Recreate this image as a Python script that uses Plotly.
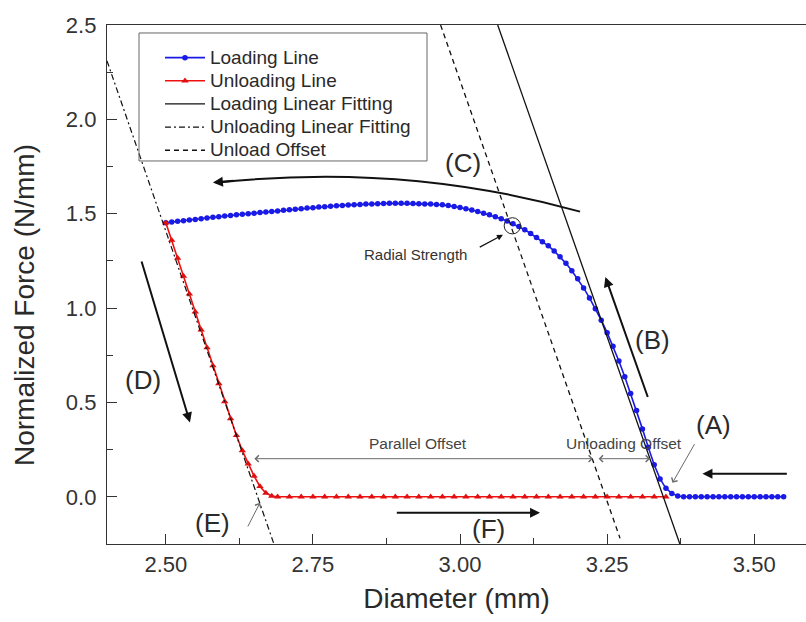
import plotly.graph_objects as go

# ---------------- data ----------------
loading_x = [2.50, 2.51, 2.52, 2.53, 2.54, 2.55, 2.56, 2.57, 2.58, 2.59,
             2.60, 2.61, 2.62, 2.63, 2.64, 2.65, 2.66, 2.67, 2.68, 2.69,
             2.70, 2.71, 2.72, 2.73, 2.74, 2.75, 2.76, 2.77, 2.78, 2.79,
             2.80, 2.81, 2.82, 2.83, 2.84, 2.85, 2.86, 2.87, 2.88, 2.89,
             2.90, 2.91, 2.92, 2.93, 2.94, 2.95, 2.96, 2.97, 2.98, 2.99,
             3.00, 3.01, 3.02, 3.03, 3.04, 3.05, 3.06, 3.07, 3.08, 3.09,
             3.10, 3.11, 3.12, 3.13, 3.14, 3.15, 3.16, 3.17, 3.18, 3.19,
             3.20, 3.21, 3.22, 3.23, 3.24, 3.25, 3.26, 3.27, 3.28, 3.29,
             3.30, 3.31, 3.32, 3.33, 3.34, 3.35, 3.36, 3.37, 3.38, 3.39,
             3.40, 3.41, 3.42, 3.43, 3.44, 3.45, 3.46, 3.47, 3.48, 3.49,
             3.50, 3.51, 3.52, 3.53, 3.54, 3.55]
loading_y = [1.452, 1.456, 1.460, 1.463, 1.467, 1.470, 1.474, 1.477, 1.481, 1.484,
             1.488, 1.491, 1.494, 1.497, 1.500, 1.503, 1.506, 1.509, 1.512, 1.515,
             1.518, 1.521, 1.524, 1.527, 1.530, 1.532, 1.535, 1.537, 1.540, 1.542,
             1.544, 1.546, 1.548, 1.549, 1.551, 1.552, 1.553, 1.554, 1.555, 1.555,
             1.555, 1.555, 1.554, 1.553, 1.552, 1.551, 1.549, 1.547, 1.543, 1.538,
             1.533, 1.527, 1.520, 1.512, 1.503, 1.494, 1.484, 1.473, 1.461, 1.447,
             1.432, 1.415, 1.395, 1.374, 1.352, 1.330, 1.303, 1.272, 1.237, 1.198,
             1.155, 1.107, 1.054, 0.997, 0.936, 0.870, 0.798, 0.720, 0.636, 0.548,
             0.458, 0.360, 0.262, 0.170, 0.095, 0.045, 0.018, 0.004, 0.0, 0.0,
             0.0, 0.0, 0.0, 0.0, 0.0, 0.0, 0.0, 0.0, 0.0, 0.0,
             0.0, 0.0, 0.0, 0.0, 0.0, 0.0]

unloading_x = [2.50, 2.51, 2.52, 2.53, 2.54, 2.55, 2.56, 2.57, 2.58, 2.59,
               2.60, 2.61, 2.62, 2.63, 2.64, 2.65, 2.66, 2.67, 2.68,
               2.69, 2.71, 2.73, 2.75, 2.77, 2.79, 2.81, 2.83, 2.85, 2.87,
               2.89, 2.91, 2.93, 2.95, 2.97, 2.99, 3.01, 3.03, 3.05, 3.07,
               3.09, 3.11, 3.13, 3.15, 3.17, 3.19, 3.21, 3.23, 3.25, 3.27,
               3.29, 3.31, 3.33, 3.35]
unloading_y = [1.452, 1.360, 1.265, 1.170, 1.075, 0.980, 0.885, 0.790, 0.695, 0.600,
               0.505, 0.415, 0.325, 0.245, 0.175, 0.110, 0.055, 0.020, 0.004,
               0.0, 0.0, 0.0, 0.0, 0.0, 0.0, 0.0, 0.0, 0.0, 0.0,
               0.0, 0.0, 0.0, 0.0, 0.0, 0.0, 0.0, 0.0, 0.0, 0.0,
               0.0, 0.0, 0.0, 0.0, 0.0, 0.0, 0.0, 0.0, 0.0, 0.0,
               0.0, 0.0, 0.0, 0.0]

load_fit_x = [3.064, 3.377]
load_fit_y = [2.50, -0.28]
unload_fit_x = [2.40, 2.687]
unload_fit_y = [2.31, -0.28]
offset_x = [2.967, 3.272]
offset_y = [2.50, -0.22]

x_range = [2.40, 3.588]
y_range = [-0.25, 2.50]

FONT = "Liberation Sans, Arial, sans-serif"
TXT = "#2a2a2a"
GREY = "#6a6a6a"


def lg(name):
    return '<span style="font-size:19px">%s</span>' % name


fig = go.Figure()
fig.add_trace(go.Scatter(x=loading_x, y=loading_y, mode="lines+markers", name=lg("Loading Line"),
                         line=dict(color="#1a1ae6", width=1.6),
                         marker=dict(symbol="circle", size=5.5, color="#1a1ae6")))
fig.add_trace(go.Scatter(x=unloading_x, y=unloading_y, mode="lines+markers", name=lg("Unloading Line"),
                         line=dict(color="#f01010", width=1.6),
                         marker=dict(symbol="triangle-up", size=6.5, color="#e01010")))
fig.add_trace(go.Scatter(x=load_fit_x, y=load_fit_y, mode="lines", name=lg("Loading Linear Fitting"),
                         line=dict(color="#111111", width=1.3)))
fig.add_trace(go.Scatter(x=unload_fit_x, y=unload_fit_y, mode="lines", name=lg("Unloading Linear Fitting"),
                         line=dict(color="#111111", width=1.2, dash="6px,3px,2px,3px")))
fig.add_trace(go.Scatter(x=offset_x, y=offset_y, mode="lines", name=lg("Unload Offset"),
                         line=dict(color="#111111", width=1.3, dash="5px,4px")))

annotations = []


def text(x, y, t, size, color=TXT):
    annotations.append(dict(x=x, y=y, xref="x", yref="y", text=t, showarrow=False,
                            font=dict(family=FONT, size=size, color=color),
                            xanchor="center", yanchor="middle"))


def arrow(hx, hy, tx, ty, color="#111111", width=2.0, head=2, size=1.0, both=False):
    d = dict(x=hx, y=hy, ax=tx, ay=ty, xref="x", yref="y", axref="x", ayref="y",
             text="", showarrow=True, arrowcolor=color, arrowwidth=width,
             arrowhead=head, arrowsize=size, standoff=0, startstandoff=0)
    if both:
        d["arrowside"] = "end+start"
        d["startarrowhead"] = head
        d["startarrowsize"] = size
    annotations.append(d)


# labels
text(3.005, 1.771, "(C)", 26)
text(3.327, 0.830, "(B)", 26)
text(3.431, 0.378, "(A)", 26)
text(2.461, 0.617, "(D)", 26)
text(2.579, -0.138, "(E)", 26)
text(3.048, -0.170, "(F)", 26)
text(2.929, 0.282, "Parallel Offset", 15.5, "#444444")
text(3.278, 0.282, "Unloading Offset", 15.5, "#444444")
text(2.925, 1.282, "Radial Strength", 15, "#333333")

# direction arrows
arrow(3.247, 1.165, 3.320, 0.521)             # (B)
arrow(2.541, 0.394, 2.458, 1.255)             # (D)
arrow(3.412, 0.122, 3.558, 0.122)             # right-hand arrow
arrow(3.136, -0.085, 2.890, -0.085)           # (F)
arrow(3.073, 1.388, 3.031, 1.319, width=1.2)  # radial strength
arrow(3.361, 0.074, 3.400, 0.287, color=GREY, width=1.0, head=4, size=1.3)   # (A)
arrow(2.660, -0.032, 2.638, -0.165, color=GREY, width=1.0, head=4, size=1.3)  # (E)
# dimension lines
arrow(3.226, 0.202, 2.648, 0.202, color=GREY, width=1.0, head=4, size=1.3, both=True)
arrow(3.323, 0.202, 3.233, 0.202, color=GREY, width=1.0, head=4, size=1.3, both=True)

# (C) arrow head (curve drawn as a shape)
annotations.append(dict(x=2.580, y=1.665, xref="x", yref="y", ax=22, ay=-2,
                        text="", showarrow=True, arrowcolor="#111111", arrowwidth=2.0,
                        arrowhead=2, arrowsize=1.0, standoff=0))

# y-axis title (placed as in the reference, slightly below centre)
annotations.append(dict(x=-0.1187, y=0.4605, xref="paper", yref="paper",
                        text="Normalized Force (N/mm)", textangle=-90, showarrow=False,
                        font=dict(family=FONT, size=28, color=TXT),
                        xanchor="center", yanchor="middle"))

shapes = [
    dict(type="path", xref="x", yref="y",
         path="M 3.204,1.511 Q 2.904,1.774 2.585,1.664",
         line=dict(color="#111111", width=2.0)),
    dict(type="circle", xref="x", yref="y", x0=3.075, x1=3.103, y0=1.393, y1=1.479,
         line=dict(color="#222222", width=1.0)),
    # legend frame
    dict(type="rect", xref="paper", yref="paper", x0=0.0458, x1=0.4578, y0=0.738, y1=0.9846,
         line=dict(color="#666666", width=1.0), fillcolor="rgba(0,0,0,0)", layer="above"),
]

axis_common = dict(showline=True, linecolor="#333333", linewidth=1.4, mirror=True,
                   ticks="inside", ticklen=10, tickwidth=1.4, tickcolor="#333333",
                   showgrid=False, zeroline=False,
                   tickfont=dict(family=FONT, size=22, color="#333333"))

fig.update_layout(
    width=806, height=622,
    margin=dict(l=107, r=0, t=25, b=78),
    paper_bgcolor="white", plot_bgcolor="white",
    font=dict(family=FONT, color=TXT),
    showlegend=True,
    legend=dict(x=0.0758, y=0.969, xanchor="left", yanchor="top",
                bgcolor="rgba(0,0,0,0)", borderwidth=0,
                font=dict(family=FONT, size=15.5, color=TXT), itemwidth=40,
                tracegroupgap=0),
    annotations=annotations,
    shapes=shapes,
    xaxis=dict(range=x_range, tick0=2.5, dtick=0.25, tickformat=".2f",
               minor=dict(ticks="inside", tick0=2.5, dtick=0.125, ticklen=6,
                          tickwidth=1.4, tickcolor="#333333", showgrid=False),
               title=dict(text="Diameter (mm)", font=dict(family=FONT, size=28, color=TXT), standoff=12),
               **axis_common),
    yaxis=dict(range=y_range, tick0=0, dtick=0.5, tickformat=".1f", ticklabelstandoff=5,
               minor=dict(ticks="inside", tick0=0, dtick=0.25, ticklen=6,
                          tickwidth=1.4, tickcolor="#333333", showgrid=False),
               **{**axis_common, "mirror": False}),
)

fig.write_html("out.html")
